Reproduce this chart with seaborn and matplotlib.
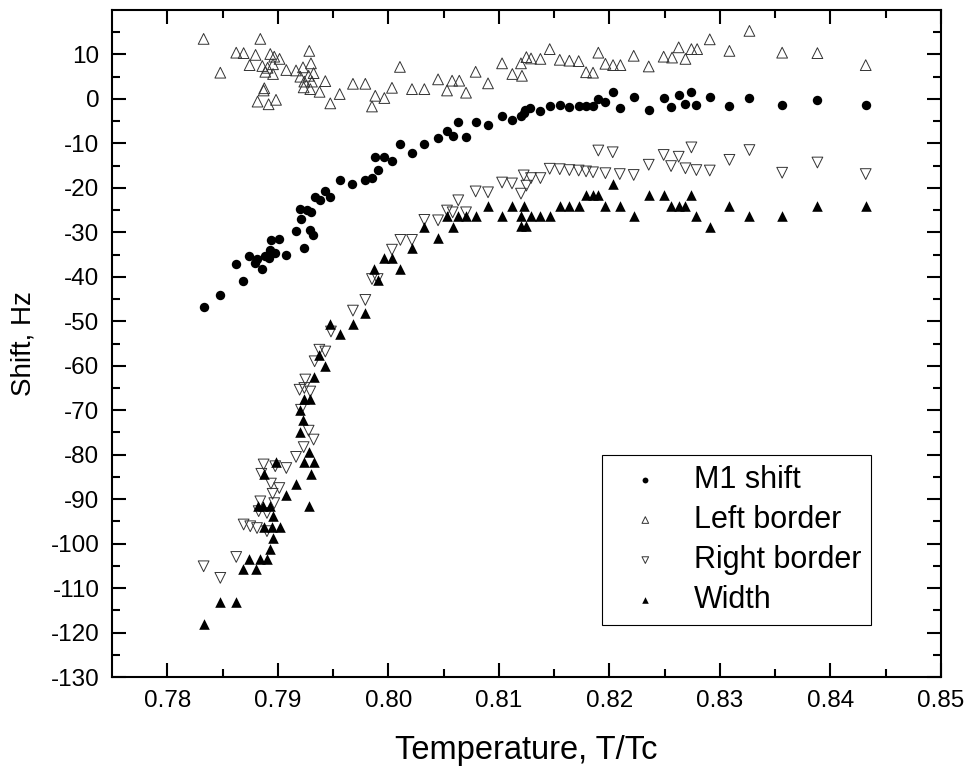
import numpy as np
import pandas as pd
import seaborn as sns
import matplotlib.pyplot as plt
from matplotlib.ticker import FixedLocator, FormatStrFormatter

# M1 shift (filled circles)
m1_x = [0.78329, 0.78480, 0.78624, 0.78685, 0.78742, 0.78796, 0.78812, 0.78857, 0.78887, 0.78917,
        0.78932, 0.78938, 0.78977, 0.79007, 0.79077, 0.79165, 0.79198, 0.79210, 0.79240, 0.79264,
        0.79294, 0.79300, 0.79319, 0.79336, 0.79379, 0.79430, 0.79475, 0.79560, 0.79671, 0.79792,
        0.79852, 0.79876, 0.79903, 0.79964, 0.80033, 0.80110, 0.80214, 0.80326, 0.80450, 0.80531,
        0.80582, 0.80633, 0.80703, 0.80790, 0.80902, 0.81029, 0.81119, 0.81200, 0.81225, 0.81240,
        0.81279, 0.81376, 0.81460, 0.81551, 0.81638, 0.81722, 0.81789, 0.81849, 0.81898, 0.81964,
        0.82030, 0.82094, 0.82220, 0.82356, 0.82491, 0.82558, 0.82627, 0.82688, 0.82742, 0.82787,
        0.82908, 0.83086, 0.83267, 0.83563, 0.83882, 0.84319]
m1_y = [-46.8, -44.1, -37.1, -41.0, -35.3, -36.9, -36.0, -38.3, -35.3, -35.8,
        -33.9, -31.7, -34.7, -31.5, -35.1, -29.8, -24.8, -27.1, -33.6, -24.9,
        -29.4, -25.5, -30.7, -22.0, -22.7, -20.6, -22.1, -18.2, -19.1, -18.2,
        -17.8, -13.0, -16.0, -13.0, -13.9, -10.1, -12.1, -10.1, -8.8, -7.3,
        -8.3, -5.3, -8.5, -5.1, -5.8, -3.8, -4.7, -3.8, -3.2, -2.6,
        -2.1, -2.8, -1.7, -1.3, -1.9, -1.7, -1.7, -1.7, -0.1, -0.8,
        1.6, -2.1, 0.4, -2.5, 0.2, -1.9, 0.9, -1.1, 1.6, -1.4,
        0.4, -1.6, 0.2, -1.3, -0.2, -1.4]

# Left border (open up triangles)
left_x = [0.78329, 0.78480, 0.78624, 0.78691, 0.78745, 0.78799, 0.78817, 0.78842, 0.78860, 0.78872,
          0.78878, 0.78887, 0.78908, 0.78917, 0.78932, 0.78957, 0.78957, 0.78968, 0.78984, 0.79016,
          0.79077, 0.79165, 0.79204, 0.79228, 0.79234, 0.79240, 0.79279, 0.79285, 0.79294, 0.79300,
          0.79309, 0.79324, 0.79378, 0.79430, 0.79475, 0.79560, 0.79680, 0.79792, 0.79852, 0.79882,
          0.79964, 0.80033, 0.80105, 0.80214, 0.80326, 0.80450, 0.80531, 0.80577, 0.80642, 0.80703,
          0.80790, 0.80902, 0.81029, 0.81122, 0.81200, 0.81209, 0.81249, 0.81291, 0.81376, 0.81460,
          0.81551, 0.81638, 0.81722, 0.81789, 0.81852, 0.81900, 0.81964, 0.82033, 0.82100, 0.82220,
          0.82356, 0.82491, 0.82567, 0.82627, 0.82688, 0.82742, 0.82794, 0.82908, 0.83086, 0.83267,
          0.83563, 0.83882, 0.84319]
left_y = [13.5, 5.9, 10.4, 10.3, 7.6, 9.9, -0.6, 13.5, 7.4, 1.9,
          2.4, 6.1, 7.0, -1.2, 10.1, 7.8, 5.6, 9.5, -0.2, 9.0,
          6.5, 6.4, 5.0, 7.1, 2.6, 3.9, 5.2, 10.8, 2.2, 8.0,
          3.9, 5.8, 1.6, 4.0, -1.0, 1.1, 3.4, 3.4, -1.7, 0.7,
          0.2, 2.5, 7.2, 2.2, 2.2, 4.4, 1.9, 4.1, 4.1, 1.4,
          6.1, 3.5, 8.0, 5.6, 8.0, 5.2, 9.4, 9.1, 9.0, 11.2,
          8.8, 8.6, 8.5, 6.0, 5.9, 10.4, 7.9, 7.6, 7.6, 9.7,
          7.3, 9.5, 9.3, 11.6, 9.0, 11.2, 11.2, 13.4, 10.8, 15.3,
          10.4, 10.3, 7.6]

# Right border (open down triangles)
right_x = [0.78329, 0.78480, 0.78624, 0.78691, 0.78751, 0.78812, 0.78827, 0.78842, 0.78851, 0.78872,
           0.78902, 0.78902, 0.78938, 0.78953, 0.78968, 0.78977, 0.79014, 0.79077, 0.79165, 0.79197,
           0.79210, 0.79234, 0.79240, 0.79249, 0.79279, 0.79294, 0.79324, 0.79333, 0.79376, 0.79430,
           0.79481, 0.79680, 0.79792, 0.79852, 0.79903, 0.80033, 0.80109, 0.80214, 0.80326, 0.80450,
           0.80531, 0.80582, 0.80633, 0.80703, 0.80790, 0.80902, 0.81029, 0.81119, 0.81200, 0.81225,
           0.81249, 0.81291, 0.81376, 0.81460, 0.81551, 0.81638, 0.81722, 0.81789, 0.81852, 0.81900,
           0.81964, 0.82030, 0.82094, 0.82220, 0.82356, 0.82491, 0.82558, 0.82627, 0.82688, 0.82742,
           0.82787, 0.82908, 0.83086, 0.83267, 0.83563, 0.83882, 0.84319]
right_y = [-105.1, -107.7, -103.0, -95.7, -96.1, -96.5, -92.7, -90.5, -84.3, -82.2,
           -93.1, -97.2, -86.5, -88.8, -90.9, -82.6, -87.5, -83.0, -80.5, -65.4,
           -69.9, -78.3, -65.0, -63.1, -74.6, -65.8, -76.6, -59.0, -56.4, -56.8,
           -52.3, -47.6, -45.2, -40.5, -40.5, -33.9, -31.7, -31.7, -27.2, -27.3,
           -25.1, -25.5, -22.8, -25.5, -20.8, -21.0, -18.8, -19.0, -21.3, -17.2,
           -19.5, -17.8, -17.8, -15.7, -15.8, -16.0, -16.1, -16.3, -16.5, -11.6,
           -16.7, -12.0, -16.9, -17.1, -14.8, -12.6, -15.1, -13.0, -15.6, -10.9,
           -16.0, -16.1, -13.7, -11.5, -16.6, -14.3, -16.9]

# Width (filled up triangles)
width_x = [0.78329, 0.78480, 0.78624, 0.78685, 0.78742, 0.78799, 0.78821, 0.78835, 0.78866, 0.78872,
           0.78878, 0.78902, 0.78926, 0.78932, 0.78947, 0.78957, 0.78957, 0.78984, 0.79016, 0.79077,
           0.79165, 0.79204, 0.79204, 0.79224, 0.79234, 0.79240, 0.79279, 0.79285, 0.79294, 0.79300,
           0.79324, 0.79330, 0.79376, 0.79430, 0.79475, 0.79560, 0.79677, 0.79792, 0.79867, 0.79903,
           0.79964, 0.80033, 0.80109, 0.80214, 0.80326, 0.80450, 0.80531, 0.80582, 0.80633, 0.80703,
           0.80790, 0.80902, 0.81029, 0.81119, 0.81200, 0.81200, 0.81225, 0.81249, 0.81291, 0.81376,
           0.81460, 0.81551, 0.81638, 0.81722, 0.81789, 0.81852, 0.81900, 0.81964, 0.82030, 0.82094,
           0.82220, 0.82356, 0.82491, 0.82558, 0.82627, 0.82688, 0.82742, 0.82787, 0.82908, 0.83086,
           0.83267, 0.83563, 0.83882, 0.84319]
width_y = [-118.0, -113.1, -113.1, -105.8, -103.4, -105.8, -91.5, -103.4, -91.5, -96.3,
           -84.3, -103.4, -91.5, -101.2, -96.3, -93.9, -98.7, -81.7, -96.3, -89.0,
           -86.5, -69.9, -74.8, -72.1, -81.7, -67.5, -79.3, -91.5, -67.5, -84.3,
           -81.7, -62.5, -57.5, -60.0, -50.6, -52.8, -50.6, -48.2, -38.3, -40.8,
           -35.8, -35.8, -38.3, -33.6, -28.7, -31.3, -26.3, -28.7, -26.3, -26.3,
           -26.3, -24.0, -26.3, -24.0, -28.5, -26.3, -24.0, -28.5, -26.3, -26.3,
           -26.3, -24.0, -24.0, -24.0, -21.6, -21.6, -21.6, -24.0, -19.1, -24.0,
           -26.3, -21.6, -21.6, -24.0, -24.0, -24.0, -21.6, -26.4, -28.8, -24.0,
           -26.4, -26.4, -24.0, -24.0]

x_ticks = [0.78, 0.79, 0.80, 0.81, 0.82, 0.83, 0.84, 0.85]
y_ticks = list(range(-130, 11, 10))

sns.set_style("ticks")
plt.rcParams['font.family'] = ['Liberation Sans', 'DejaVu Sans']
plt.rcParams['text.color'] = 'black'
plt.rcParams['axes.labelcolor'] = 'black'

fig = plt.figure(figsize=(9.73, 7.74), dpi=100)
ax = fig.add_axes([0.1151, 0.1253, 0.8520, 0.8618])

sns.scatterplot(x=m1_x, y=m1_y, marker='o', s=46, color='black', linewidth=0,
                ax=ax, label='M1 shift')
sns.scatterplot(x=left_x, y=left_y, marker='^', s=60, facecolor='none',
                edgecolor='#333333', linewidth=0.7, ax=ax, label='Left border')
sns.scatterplot(x=right_x, y=right_y, marker='v', s=60, facecolor='none',
                edgecolor='#333333', linewidth=0.7, ax=ax, label='Right border')
sns.scatterplot(x=width_x, y=width_y, marker='^', s=58, color='black', linewidth=0,
                ax=ax, label='Width')

ax.set_xlim(0.775, 0.85)
ax.set_ylim(-130, 20)
ax.xaxis.set_major_locator(FixedLocator(x_ticks))
ax.xaxis.set_minor_locator(FixedLocator([0.785, 0.795, 0.805, 0.815, 0.825, 0.835, 0.845]))
ax.yaxis.set_major_locator(FixedLocator(y_ticks))
ax.yaxis.set_minor_locator(FixedLocator(list(range(-125, 20, 10))))
ax.xaxis.set_major_formatter(FormatStrFormatter('%.2f'))
ax.yaxis.set_major_formatter(FormatStrFormatter('%d'))

for sp in ax.spines.values():
    sp.set_visible(True)
    sp.set_linewidth(1.5)
    sp.set_color('black')
ax.tick_params(which='both', direction='in', top=True, right=True, width=1.5,
               color='black', labelcolor='black')
ax.tick_params(which='major', length=10)
ax.tick_params(which='minor', length=5.5)
ax.tick_params(axis='x', which='major', pad=9)
ax.tick_params(axis='y', which='major', pad=9)
for lab in ax.get_xticklabels() + ax.get_yticklabels():
    lab.set_fontsize(17.5)

ax.set_xlabel('Temperature, T/Tc', fontsize=23.5, labelpad=17, color='black')
ax.set_ylabel('Shift, Hz', fontsize=20, labelpad=10, color='black')

leg = ax.legend(loc='lower left', bbox_to_anchor=(0.591, 0.078), borderaxespad=0,
                fontsize=22, markerscale=0.62, frameon=True, fancybox=False,
                edgecolor='black', framealpha=1, handlelength=2.2, handletextpad=0.5,
                labelspacing=0.33, borderpad=0.32)
leg.get_frame().set_linewidth(0.8)
for t in leg.get_texts():
    t.set_color('black')

fig.savefig('out.png', dpi=100)
